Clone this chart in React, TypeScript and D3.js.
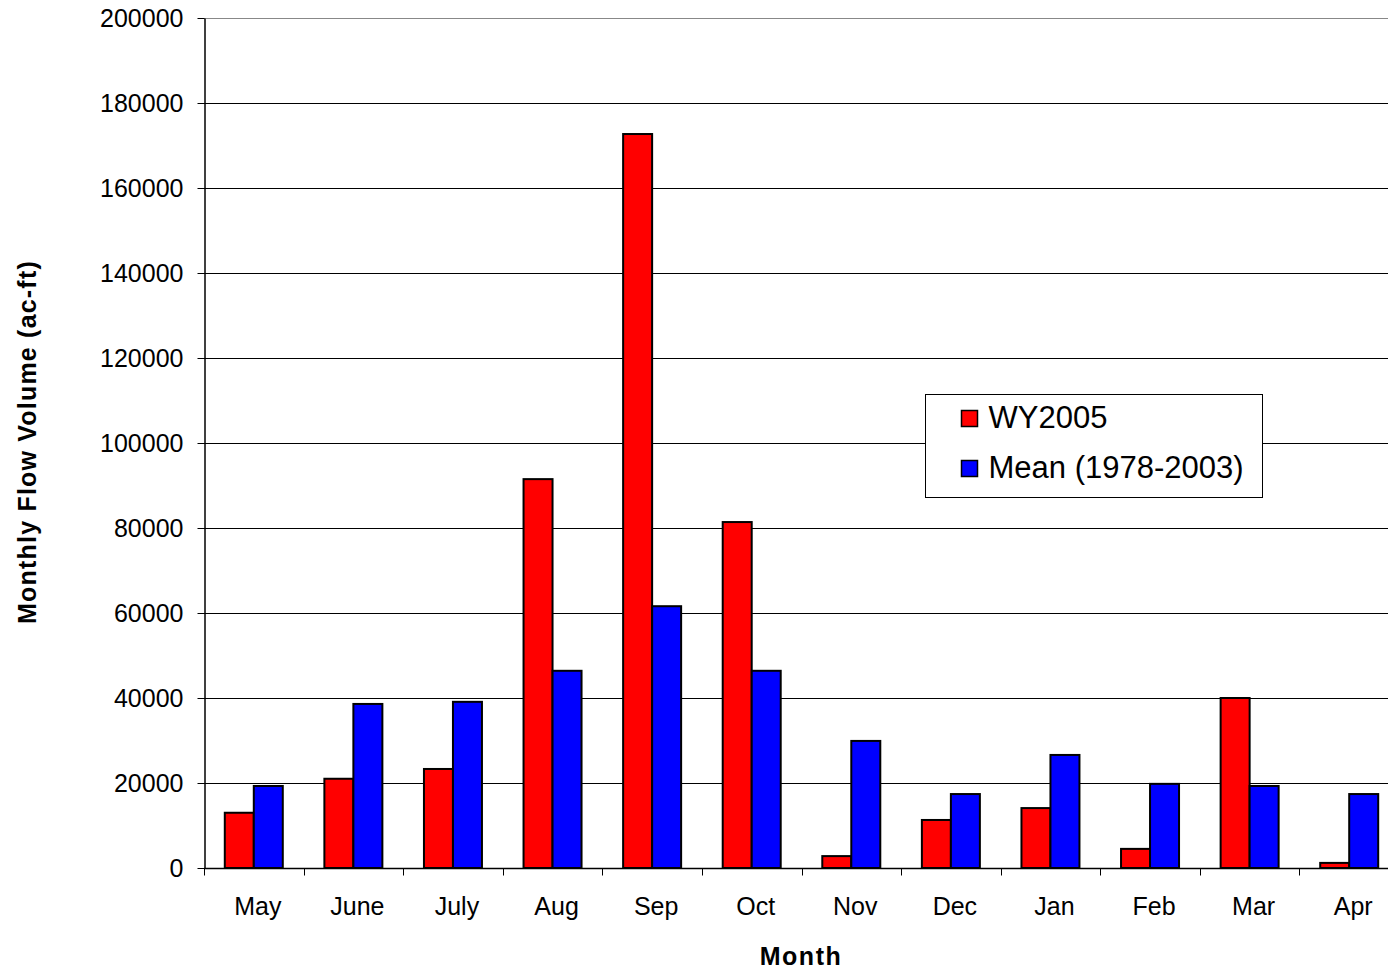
import React, { useEffect, useRef } from 'react';
import * as d3 from 'd3';

const months = ['May', 'June', 'July', 'Aug', 'Sep', 'Oct', 'Nov', 'Dec', 'Jan', 'Feb', 'Mar', 'Apr'];
const wy2005 = [13000, 21000, 23300, 91500, 172700, 81400, 2800, 11300, 14100, 4500, 40000, 1200];
const meanFlow = [19300, 38600, 39100, 46400, 61600, 46400, 29900, 17400, 26600, 19800, 19300, 17400];
const seriesNames = ['WY2005', 'Mean (1978-2003)'];
const seriesColors = ['#ff0000', '#0000ff'];
const yTicks = [0, 20000, 40000, 60000, 80000, 100000, 120000, 140000, 160000, 180000, 200000];

const W = 1388;
const H = 969;

export default function App() {
  const ref = useRef<SVGSVGElement>(null);

  useEffect(() => {
    const svg = d3.select(ref.current);
    svg.selectAll('*').remove();

    // plot area (right side runs past the picture edge)
    const margin = { top: 18, bottom: 101, left: 204 };
    const width = 1195;
    const height = H - margin.top - margin.bottom;
    const font = 'Liberation Sans, Arial, sans-serif';

    const g = svg.append('g').attr('transform', `translate(${margin.left},${margin.top})`);

    const x = d3.scaleBand().domain(months).range([0, width]);
    const y = d3.scaleLinear().domain([0, 200000]).range([height, 0]);

    // gridlines
    g.selectAll('line.grid')
      .data(yTicks.filter((t) => t > 0))
      .enter()
      .append('line')
      .attr('x1', 0)
      .attr('x2', width)
      .attr('y1', (d) => y(d) + 0.5)
      .attr('y2', (d) => y(d) + 0.5)
      .attr('stroke', (d) => (d === 200000 ? '#888' : '#000'))
      .attr('stroke-width', 1);

    // bars
    const barW = 29;
    const series = [wy2005, meanFlow];
    series.forEach((vals, si) => {
      g.selectAll(`rect.s${si}`)
        .data(vals)
        .enter()
        .append('rect')
        .attr('x', (_, i) => (x(months[i]) as number) + x.bandwidth() / 2 - barW + si * barW)
        .attr('y', (d) => y(d))
        .attr('width', barW)
        .attr('height', (d) => height - y(d))
        .attr('fill', seriesColors[si])
        .attr('stroke', '#000')
        .attr('stroke-width', 2);
    });

    // y axis
    const yAxis = g.append('g').attr('transform', 'translate(0.5,0)')
      .call(d3.axisLeft(y).tickValues(yTicks).tickSize(7).tickSizeOuter(0).tickFormat(d3.format('d')));
    yAxis.select('.domain').attr('stroke', '#000').attr('stroke-width', 1.5);
    yAxis.selectAll('.tick line').attr('stroke', '#000');
    yAxis.selectAll('.tick text')
      .attr('font-family', font)
      .attr('font-size', 25)
      .attr('fill', '#000')
      .attr('x', -21)
      .attr('dy', '0.34em');

    // x axis
    const xAxis = g.append('g').attr('transform', `translate(0,${height + 0.5})`);
    xAxis.append('line').attr('x1', 0).attr('x2', width).attr('stroke', '#000').attr('stroke-width', 1.5);
    xAxis.selectAll('line.tk')
      .data(months)
      .enter()
      .append('line')
      .attr('x1', (d) => Math.round(x(d) as number) + 0.5)
      .attr('x2', (d) => Math.round(x(d) as number) + 0.5)
      .attr('y1', 0)
      .attr('y2', 7)
      .attr('stroke', '#000');
    xAxis.selectAll('text')
      .data(months)
      .enter()
      .append('text')
      .attr('x', (d) => (x(d) as number) + x.bandwidth() / 2 + 4)
      .attr('y', 46)
      .attr('text-anchor', 'middle')
      .attr('font-family', font)
      .attr('font-size', 25)
      .attr('fill', '#000')
      .text((d) => d);

    // axis titles
    svg.append('text')
      .attr('x', 801)
      .attr('y', 965)
      .attr('text-anchor', 'middle')
      .attr('font-family', font)
      .attr('font-size', 25)
      .attr('font-weight', 'bold')
      .attr('letter-spacing', 1.5)
      .text('Month');

    svg.append('text')
      .attr('transform', `translate(36,${442}) rotate(-90)`)
      .attr('text-anchor', 'middle')
      .attr('font-family', font)
      .attr('font-size', 25)
      .attr('font-weight', 'bold')
      .attr('letter-spacing', 1.2)
      .text('Monthly Flow Volume (ac-ft)');

    // legend
    const lg = svg.append('g').attr('transform', 'translate(925.5,394.5)');
    lg.append('rect').attr('width', 337).attr('height', 103).attr('fill', '#fff').attr('stroke', '#000');
    seriesNames.forEach((name, i) => {
      lg.append('rect')
        .attr('x', 36)
        .attr('y', 16 + i * 50)
        .attr('width', 16)
        .attr('height', 16)
        .attr('fill', seriesColors[i])
        .attr('stroke', '#000')
        .attr('stroke-width', 1.5);
      lg.append('text')
        .attr('x', 63)
        .attr('y', 33 + i * 50)
        .attr('font-family', font)
        .attr('font-size', 31)
        .attr('fill', '#000')
        .text(name);
    });
  }, []);

  return (
    <div>
      <svg ref={ref} width={W} height={H} style={{ position: 'absolute', left: 0, top: 0 }} />
    </div>
  );
}
